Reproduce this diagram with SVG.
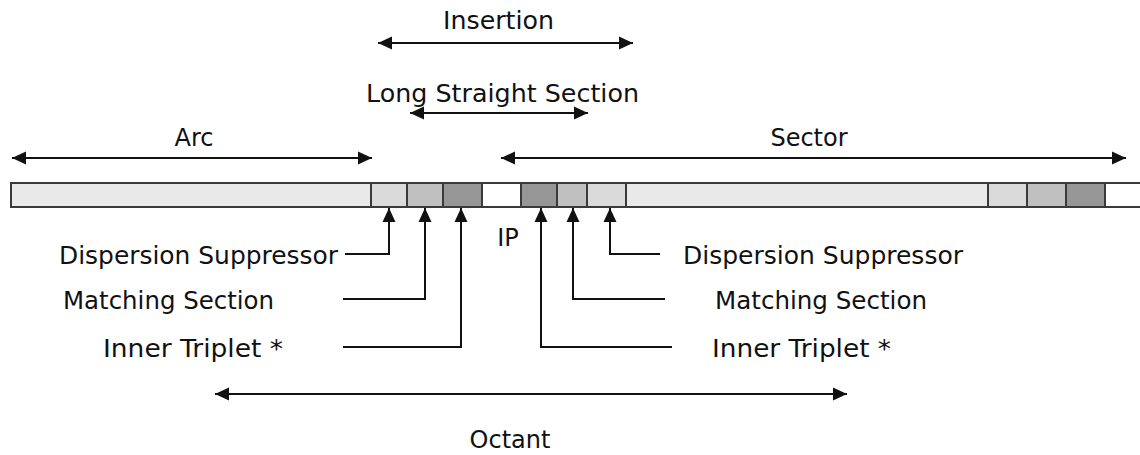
<svg xmlns="http://www.w3.org/2000/svg" width="1140" height="455" viewBox="0 0 1140 455">
<style>
text{font-family:"DejaVu Sans","Verdana",sans-serif;font-size:24px;fill:#111}
.ln{stroke:#111;stroke-width:2;fill:none}
.seg{stroke:#3a3a3a;stroke-width:2}
.arc{fill:#e9e9e9}.ds{fill:#dadada}.ms{fill:#c0c0c0}.it{fill:#969696}.ip{fill:#ffffff}
</style>
<defs>
<marker id="ah" viewBox="0 0 14 14" refX="14" refY="7" markerWidth="14" markerHeight="14" markerUnits="userSpaceOnUse" orient="auto-start-reverse">
<path d="M0,0.5 L14,7 L0,13.5 z" fill="#111"/>
</marker>
</defs>
<rect width="1140" height="455" fill="#ffffff"/>
<g id="bar">
<rect class="seg arc" x="11" y="183" width="360" height="24"/>
<rect class="seg ds" x="371" y="183" width="36" height="24"/>
<rect class="seg ms" x="407" y="183" width="36" height="24"/>
<rect class="seg it" x="443" y="183" width="39" height="24"/>
<rect class="seg ip" x="482" y="183" width="39" height="24"/>
<rect class="seg it" x="521" y="183" width="36" height="24"/>
<rect class="seg ms" x="557" y="183" width="30" height="24"/>
<rect class="seg ds" x="587" y="183" width="39" height="24"/>
<rect class="seg arc" x="626" y="183" width="362" height="24"/>
<rect class="seg ds" x="988" y="183" width="39" height="24"/>
<rect class="seg ms" x="1027" y="183" width="39" height="24"/>
<rect class="seg it" x="1066" y="183" width="39" height="24"/>
<rect class="seg ip" x="1105" y="183" width="40" height="24"/>
</g>
<g id="connectors">
<line class="ln" x1="378" y1="43" x2="633" y2="43" marker-start="url(#ah)" marker-end="url(#ah)"/>
<line class="ln" x1="410" y1="113" x2="588" y2="113" marker-start="url(#ah)" marker-end="url(#ah)"/>
<line class="ln" x1="12" y1="158" x2="372" y2="158" marker-start="url(#ah)" marker-end="url(#ah)"/>
<line class="ln" x1="501" y1="158" x2="1126" y2="158" marker-start="url(#ah)" marker-end="url(#ah)"/>
<line class="ln" x1="215" y1="394" x2="847" y2="394" marker-start="url(#ah)" marker-end="url(#ah)"/>
<path class="ln" d="M345,254 H389 V208" marker-end="url(#ah)"/>
<path class="ln" d="M343,299 H425 V208" marker-end="url(#ah)"/>
<path class="ln" d="M343,347 H461 V208" marker-end="url(#ah)"/>
<path class="ln" d="M672,347 H541 V208" marker-end="url(#ah)"/>
<path class="ln" d="M665,299 H573 V208" marker-end="url(#ah)"/>
<path class="ln" d="M660,254 H610 V208" marker-end="url(#ah)"/>
</g>
<g id="label-insertion"><text x="443" y="29" textLength="111" lengthAdjust="spacingAndGlyphs">Insertion</text></g>
<g id="label-lss"><text x="366" y="102" textLength="273" lengthAdjust="spacingAndGlyphs">Long Straight Section</text></g>
<g id="label-arc"><text x="194" y="146" text-anchor="middle">Arc</text></g>
<g id="label-sector"><text x="809" y="146" text-anchor="middle">Sector</text></g>
<g id="label-ip"><text x="508" y="246" text-anchor="middle">IP</text></g>
<g id="label-ds-left"><text x="59" y="264" textLength="279" lengthAdjust="spacingAndGlyphs">Dispersion Suppressor</text></g>
<g id="label-ms-left"><text x="63" y="309" textLength="211" lengthAdjust="spacingAndGlyphs">Matching Section</text></g>
<g id="label-it-left"><text x="103" y="357" textLength="180" lengthAdjust="spacingAndGlyphs">Inner Triplet *</text></g>
<g id="label-ds-right"><text x="683" y="264" textLength="280" lengthAdjust="spacingAndGlyphs">Dispersion Suppressor</text></g>
<g id="label-ms-right"><text x="715" y="309" textLength="212" lengthAdjust="spacingAndGlyphs">Matching Section</text></g>
<g id="label-it-right"><text x="712" y="357" textLength="179" lengthAdjust="spacingAndGlyphs">Inner Triplet *</text></g>
<g id="label-octant"><text x="510" y="448" text-anchor="middle">Octant</text></g>
</svg>
